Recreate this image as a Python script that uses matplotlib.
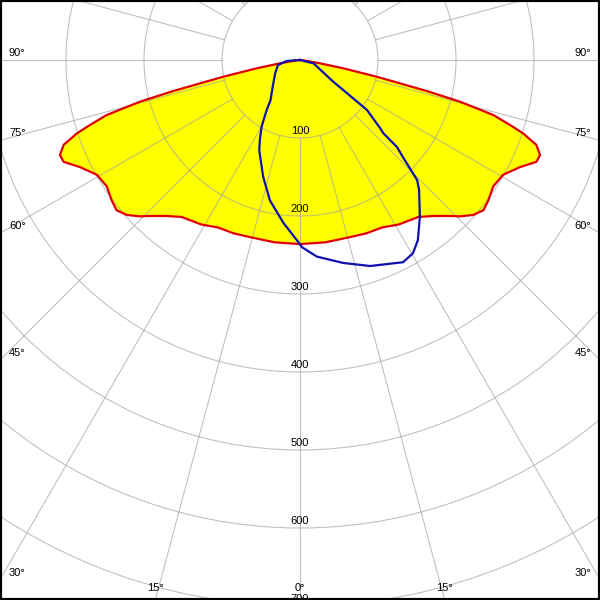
import numpy as np
import matplotlib
matplotlib.use('Agg')
import matplotlib.pyplot as plt
from matplotlib.patches import Circle

# ── data (gamma in degrees, intensity in cd) ──
# C0-C180 plane, symmetric -> mirrored to both sides
red_gamma = [0, 8, 16, 21, 26, 31, 37, 40.5, 44, 45.7, 48.2, 50.7, 53.4, 56.8,
             60.5, 64.1, 66.7, 68.4, 70.25, 71.8, 72.8, 74.1, 75.4, 76.25,
             77.7, 79.1, 80.6, 82, 85, 90]
red_cd = [236, 236, 236, 238, 239, 246, 252, 263, 278, 287, 298, 304, 301, 296,
          299, 314, 330, 331, 322, 301, 282, 258, 212, 167,
          101, 57, 26, 11, 3, 0]

# C90-C270 plane, asymmetric (negative gamma = left side), in path order
blue_gamma = [-90, -86, -77, -62, -45.6, -36.2, -33.7, -29.9, -26.6, -24.3,
              -17.5, -12.1, -5.8, -1, 0.6, 4.9, 12, 18.8, 27, 30.3, 33.2,
              37.4, 42.5, 44.3, 46.7, 48.1, 48.7, 49.6, 53.3, 57, 76, 90]
blue_cd = [0, 17, 29, 36, 49, 64, 77, 99, 115, 127,
           157, 184, 210, 231, 240, 253, 266, 279, 291, 287, 276,
           253, 226, 215, 181, 167, 142, 135, 107, 50, 18, 0]

ring_values = [100, 200, 300, 400, 500, 600, 700, 800]
spoke_angles = list(range(0, 360, 15))
label_angles = [0, 15, 30, 45, 60, 75, 90]

PX = 0.78          # pixels per cd in the reference
GRID = '#a0a0a0'
RED = '#e00000'
BLUE = '#1010b0'
FONT = dict(family='Liberation Sans', fontsize=8, color='black')


def to_xy(gamma, cd):
    g = np.radians(np.asarray(gamma, dtype=float))
    cd = np.asarray(cd, dtype=float)
    return cd * np.sin(g), -cd * np.cos(g)


fig = plt.figure(figsize=(6, 6), dpi=100)
ax = fig.add_axes([0, 0, 1, 1])
xmin, xmax = -300 / PX, 300 / PX
ymin, ymax = -540 / PX, 60 / PX
ax.set_xlim(xmin, xmax)
ax.set_ylim(ymin, ymax)
ax.set_xticks([])
ax.set_yticks([])
for s in ax.spines.values():
    s.set_linewidth(3)
    s.set_color('black')

# red (symmetric) curve: left half from 90 down to 0, then right half
g_left = [-g for g in red_gamma[::-1]]
red_g = g_left + red_gamma[1:]
red_i = red_cd[::-1] + red_cd[1:]
rx, ry = to_xy(red_g, red_i)
ax.fill(rx, ry, color='#ffff00', lw=0, zorder=1)

# grid: rings and spokes (spokes start at the first ring)
for r in ring_values:
    ax.add_patch(Circle((0, 0), r, fill=False, ec=GRID, lw=0.8,
                        alpha=0.65, zorder=2))
for a in spoke_angles:
    gx, gy = to_xy([a, a], [100, 1200])
    ax.plot(gx, gy, color=GRID, lw=0.8, alpha=0.65, zorder=2)

ax.plot(rx, ry, color=RED, lw=1.6, zorder=3, solid_joinstyle='round')
bx, by = to_xy(blue_gamma, blue_cd)
ax.plot(bx, by, color=BLUE, lw=1.6, zorder=4, solid_joinstyle='round')

# ring labels (the last one sits on the bottom edge, as in the reference)
for r in ring_values[:-1]:
    ax.annotate(str(r), xy=(0, -r), xytext=(0, 7), textcoords='offset pixels',
                ha='center', va='center', zorder=5, annotation_clip=False, **FONT)

# angle labels where spokes meet the frame
for a in label_angles:
    g = np.radians(a)
    if a == 0 or -xmax / np.tan(g) < ymin:
        xc = (-ymin) * np.tan(g)
        for sx in ([1] if a == 0 else [-1, 1]):
            ax.annotate(f'{a}°', xy=(sx * xc, ymin), xytext=(0, 12),
                        textcoords='offset pixels', ha='center', va='center',
                        zorder=5, **FONT)
    else:
        yc = -xmax / np.tan(g) if a != 90 else 0
        ax.annotate(f'{a}°', xy=(xmin, yc), xytext=(9, 7),
                    textcoords='offset pixels', ha='left', va='center',
                    zorder=5, **FONT)
        ax.annotate(f'{a}°', xy=(xmax, yc), xytext=(-9, 7),
                    textcoords='offset pixels', ha='right', va='center',
                    zorder=5, **FONT)

fig.savefig('out.png', dpi=100, facecolor='white')
